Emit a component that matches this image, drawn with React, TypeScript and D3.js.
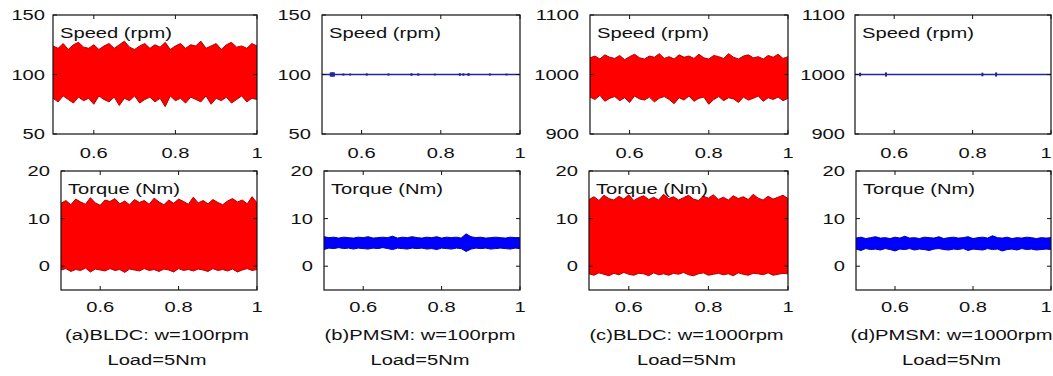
import React from "react";
import * as d3 from "d3";

const W = 1053;
const H = 376;

// envelope sample times (s)
const times = d3.range(41).map((i) => 0.5 + i * 0.0125);

const xTicks = [0.6, 0.8, 1];
const speedTicksLow = [50, 100, 150];
const speedTicksHigh = [900, 1000, 1100];
const torqueTicks = [0, 10, 20];

const captions = [
  "(a)BLDC: w=100rpm",
  "(b)PMSM: w=100rpm",
  "(c)BLDC: w=1000rpm",
  "(d)PMSM: w=1000rpm",
];
const loadLabel = "Load=5Nm";

// (a) BLDC 100 rpm speed envelope
const speedUpperA = [124, 122, 126, 121, 125, 127, 123, 122, 125, 121, 124, 126, 122, 125, 128, 123, 121, 124, 126, 122, 125, 123, 127, 121, 124, 126, 122, 125, 124, 128, 122, 124, 126, 121, 125, 127, 123, 124, 122, 126, 124];
const speedLowerA = [80, 77, 82, 79, 76, 81, 78, 80, 75, 82, 79, 77, 81, 74, 80, 78, 82, 76, 79, 81, 77, 80, 73, 82, 78, 80, 76, 81, 79, 77, 82, 75, 80, 78, 81, 76, 79, 82, 77, 80, 79];
// (c) BLDC 1000 rpm speed envelope
const speedUpperC = [1028, 1031, 1026, 1033, 1029, 1027, 1032, 1025, 1030, 1034, 1028, 1026, 1031, 1029, 1035, 1027, 1030, 1026, 1033, 1029, 1031, 1027, 1034, 1028, 1026, 1032, 1030, 1027, 1035, 1029, 1026, 1031, 1033, 1028, 1030, 1026, 1032, 1029, 1034, 1027, 1030];
const speedLowerC = [962, 958, 965, 955, 960, 963, 956, 961, 953, 964, 959, 957, 962, 954, 960, 963, 958, 951, 961, 957, 964, 955, 960, 962, 950, 958, 963, 956, 961, 959, 953, 962, 957, 960, 964, 955, 961, 958, 962, 956, 960];
// (b), (d) PMSM speed: steady level with tiny blips
const speedLevelB = 100;
const speedBlipTimesB = [0.522, 0.526, 0.53, 0.554, 0.571, 0.613, 0.668, 0.726, 0.743, 0.785, 0.848, 0.857, 0.87, 0.924, 0.966];
const speedBlipAmpB = [1.8, 2, 1.8, 0.9, 0.8, 1, 0.9, 1.1, 1, 0.8, 1.1, 1, 1.2, 0.9, 0.8];
const speedLevelD = 1000;
const speedBlipTimesD = [0.513, 0.579, 0.825, 0.86];
const speedBlipAmpD = [3, 3.5, 3, 3.5];

// torque envelopes (Nm)
const torqueUpperA = [13.2, 13.8, 12.9, 14.1, 13.5, 13.0, 14.4, 13.3, 12.8, 13.9, 13.6, 14.2, 13.1, 13.7, 12.9, 14.0, 13.4, 13.8, 13.0, 14.3, 13.5, 12.9, 13.9, 13.2, 14.1, 13.6, 13.0, 14.5, 13.3, 13.8, 13.1, 14.0, 13.4, 12.9, 13.7, 14.2, 13.5, 13.9, 13.1, 14.6, 13.3];
const torqueLowerA = [-0.8, -0.5, -1.1, -0.7, -0.9, -0.4, -1.2, -0.6, -0.8, -1.0, -0.5, -0.9, -0.7, -1.3, -0.6, -0.8, -1.0, -0.5, -0.9, -0.7, -1.1, -0.6, -0.8, -1.2, -0.5, -0.9, -0.7, -1.0, -0.6, -0.8, -1.1, -0.5, -0.9, -0.7, -1.0, -0.6, -1.2, -0.8, -0.5, -0.9, -0.7];
const torqueUpperB = [6.2, 6.0, 6.1, 5.9, 6.1, 6.0, 5.9, 6.1, 6.0, 6.2, 5.9, 6.0, 6.1, 6.0, 6.3, 5.9, 6.1, 6.0, 6.2, 6.0, 5.9, 6.1, 6.0, 6.2, 5.9, 6.1, 6.0, 6.1, 5.9, 6.8, 6.2, 6.0, 6.1, 5.9, 6.0, 6.1, 6.0, 5.9, 6.1, 6.0, 6.0];
const torqueLowerB = [3.5, 3.8, 3.7, 3.9, 3.7, 3.8, 3.6, 3.8, 3.7, 3.6, 3.8, 3.7, 3.9, 3.7, 3.5, 3.8, 3.7, 3.6, 3.8, 3.7, 3.8, 3.6, 3.7, 3.5, 3.8, 3.7, 3.6, 3.8, 3.7, 3.1, 3.6, 3.8, 3.7, 3.8, 3.6, 3.7, 3.8, 3.7, 3.6, 3.8, 3.7];
const torqueUpperC = [14.0, 14.6, 13.8, 14.9, 14.2, 13.9, 14.7, 14.1, 15.0, 13.8, 14.4, 14.8, 14.0, 14.5, 13.9, 15.1, 14.2, 14.6, 13.9, 14.4, 14.9, 14.1, 13.8, 14.7, 14.3, 15.0, 14.0, 14.5, 13.9, 14.8, 14.2, 14.6, 14.0, 15.1, 14.3, 13.9, 14.7, 14.1, 14.5, 14.9, 14.2];
const torqueLowerC = [-1.6, -1.9, -1.4, -1.7, -2.0, -1.5, -1.8, -1.3, -1.7, -1.9, -1.5, -1.6, -2.0, -1.4, -1.8, -1.6, -1.9, -1.5, -1.7, -1.3, -1.8, -2.0, -1.6, -1.4, -1.9, -1.7, -1.5, -1.8, -1.6, -2.0, -1.4, -1.7, -1.9, -1.5, -1.6, -1.8, -1.4, -1.9, -1.7, -1.5, -1.6];
const torqueUpperD = [5.9, 6.1, 5.8, 6.0, 6.2, 5.9, 6.0, 5.8, 6.1, 5.9, 6.3, 5.9, 6.0, 5.8, 6.1, 6.0, 5.9, 6.2, 5.8, 6.0, 6.1, 5.9, 6.0, 6.2, 5.8, 6.0, 6.1, 5.9, 6.4, 6.0, 5.9, 6.1, 5.8, 6.0, 5.9, 6.1, 6.0, 5.8, 6.0, 5.9, 6.0];
const torqueLowerD = [3.6, 3.3, 3.7, 3.5, 3.6, 3.4, 3.7, 3.5, 3.2, 3.6, 3.5, 3.7, 3.4, 3.6, 3.5, 3.3, 3.6, 3.7, 3.5, 3.4, 3.6, 3.5, 3.7, 3.3, 3.6, 3.5, 3.4, 3.7, 3.5, 3.6, 3.2, 3.5, 3.6, 3.4, 3.7, 3.5, 3.6, 3.4, 3.5, 3.6, 3.5];

const FONT = "'Liberation Sans', Arial, sans-serif";
const SX = 1.3; // the source image is stretched horizontally

function T({ x, y, children, anchor = "middle" }: any) {
  return (
    <text
      transform={`translate(${x},${y}) scale(${SX},1)`}
      textAnchor={anchor}
      dominantBaseline="central"
      fontFamily={FONT}
      fontSize={15.5}
      fill="#111"
    >
      {children}
    </text>
  );
}

type Sub = {
  id: string;
  left: number;
  right: number;
  top: number;
  bottom: number;
  domain: [number, number];
  ticks: number[];
  gap: number;
  title: string;
  band?: { upper: number[]; lower: number[]; fill: string; edge: string };
  level?: { value: number; blipT: number[]; blipA: number[] };
  xLabelY: number;
};

function Axes({ s }: { s: Sub }) {
  const x = d3.scaleLinear().domain([0.5, 1]).range([s.left, s.right]);
  const y = d3.scaleLinear().domain(s.domain).range([s.bottom, s.top]);
  const tl = 4;
  let content: any = null;
  if (s.band) {
    const b = s.band;
    const area = d3
      .area<number>()
      .x((_, i) => x(times[i]))
      .y0((_, i) => y(b.lower[i]))
      .y1((d) => y(d));
    const edge = d3
      .line<number>()
      .x((_, i) => x(times[i]));
    content = (
      <g>
        <path d={area(b.upper) || ""} fill={b.fill} />
        <path d={edge.y((d) => y(d))(b.upper) || ""} fill="none" stroke={b.edge} strokeWidth={1} />
        <path d={edge.y((d) => y(d))(b.lower) || ""} fill="none" stroke={b.edge} strokeWidth={1} />
      </g>
    );
  } else if (s.level) {
    const l = s.level;
    content = (
      <g>
        <line x1={x(0.5)} x2={x(1)} y1={y(l.value)} y2={y(l.value)} stroke="#24249a" strokeWidth={1.3} />
        {l.blipT.map((t, i) => (
          <rect
            key={i}
            x={x(t) - 1}
            width={2}
            y={y(l.value + l.blipA[i])}
            height={y(l.value - l.blipA[i]) - y(l.value + l.blipA[i])}
            fill="#24249a"
          />
        ))}
      </g>
    );
  }
  return (
    <g>
      <clipPath id={`clip-${s.id}`}>
        <rect x={s.left} y={s.top} width={s.right - s.left} height={s.bottom - s.top} />
      </clipPath>
      <g clipPath={`url(#clip-${s.id})`}>{content}</g>
      <rect
        x={s.left}
        y={s.top}
        width={s.right - s.left}
        height={s.bottom - s.top}
        fill="none"
        stroke="#111"
        strokeWidth={1.2}
      />
      {xTicks.map((t) => (
        <g key={t}>
          <line x1={x(t)} x2={x(t)} y1={s.bottom} y2={s.bottom - tl} stroke="#111" />
          <line x1={x(t)} x2={x(t)} y1={s.top} y2={s.top + tl} stroke="#111" />
          <T x={Math.min(x(t), W - 7)} y={s.xLabelY}>{t}</T>
        </g>
      ))}
      {s.ticks.map((v) => (
        <g key={v}>
          <line x1={s.left} x2={s.left + tl} y1={y(v)} y2={y(v)} stroke="#111" />
          <line x1={s.right} x2={s.right - tl} y1={y(v)} y2={y(v)} stroke="#111" />
          <T x={s.left - s.gap} y={y(v)} anchor="end">{v}</T>
        </g>
      ))}
      <T x={s.left + 7} y={s.top + 18} anchor="start">{s.title}</T>
    </g>
  );
}

export default function App() {
  const speedLefts = [53, 322, 590, 855];
  const torqueLefts = [61, 324, 589, 856];
  const rights = [257, 520, 788, 1051];
  const speedTop = 15, speedBottom = 134;
  const torqueTop = 171, torqueBottom = 290;

  const red = { fill: "#ff0000", edge: "#b00000" };
  const blue = { fill: "#0000ff", edge: "#0000a8" };

  const speedSubs: Sub[] = [
    { id: "sa", domain: [50, 150], ticks: speedTicksLow, gap: 8, band: { upper: speedUpperA, lower: speedLowerA, ...red } } as any,
    { id: "sb", domain: [50, 150], ticks: speedTicksLow, gap: 11, level: { value: speedLevelB, blipT: speedBlipTimesB, blipA: speedBlipAmpB } },
    { id: "sc", domain: [900, 1100], ticks: speedTicksHigh, gap: 11, band: { upper: speedUpperC, lower: speedLowerC, ...red } },
    { id: "sd", domain: [900, 1100], ticks: speedTicksHigh, gap: 10, level: { value: speedLevelD, blipT: speedBlipTimesD, blipA: speedBlipAmpD } },
  ].map((s: any, i) => ({
    ...s,
    left: speedLefts[i],
    right: rights[i],
    top: speedTop,
    bottom: speedBottom,
    title: "Speed (rpm)",
    xLabelY: 153,
  }));

  const torqueBands = [
    { upper: torqueUpperA, lower: torqueLowerA, ...red },
    { upper: torqueUpperB, lower: torqueLowerB, ...blue },
    { upper: torqueUpperC, lower: torqueLowerC, ...red },
    { upper: torqueUpperD, lower: torqueLowerD, ...blue },
  ];
  const torqueSubs: Sub[] = torqueBands.map((b, i) => ({
    id: `t${i}`,
    left: torqueLefts[i],
    right: rights[i],
    top: torqueTop,
    bottom: torqueBottom,
    domain: [-5, 20],
    ticks: torqueTicks,
    gap: 11,
    title: "Torque (Nm)",
    band: b,
    xLabelY: 307,
  }));

  return (
    <svg
      width={W}
      height={H}
      style={{ position: "absolute", left: 0, top: 0, background: "#fff" }}
    >
      <rect width={W} height={H} fill="#fff" />
      {speedSubs.map((s) => (
        <Axes key={s.id} s={s} />
      ))}
      {torqueSubs.map((s) => (
        <Axes key={s.id} s={s} />
      ))}
      {captions.map((c, i) => {
        const cx = (torqueLefts[i] + rights[i]) / 2 - 2;
        return (
          <g key={c}>
            <T x={cx} y={335}>{c}</T>
            <T x={cx} y={360}>{loadLabel}</T>
          </g>
        );
      })}
    </svg>
  );
}
